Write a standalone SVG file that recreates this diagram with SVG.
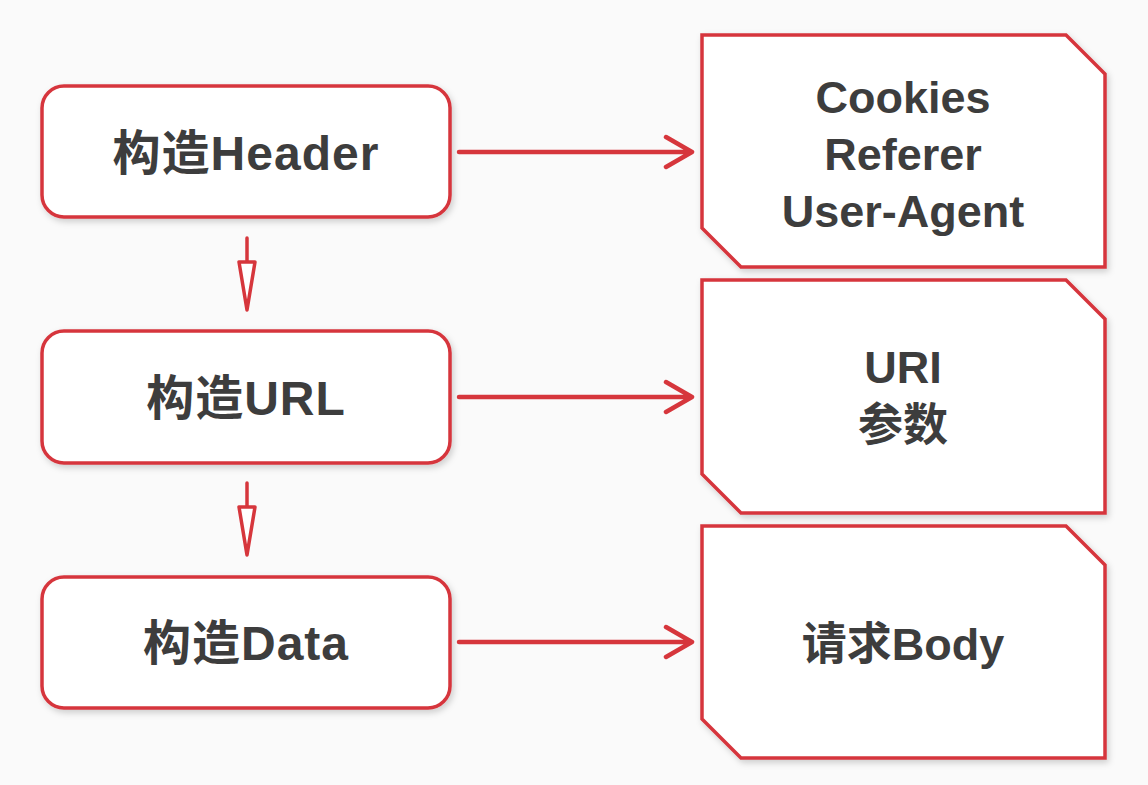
<svg xmlns="http://www.w3.org/2000/svg" width="1148" height="785" viewBox="0 0 1148 785">
<defs>
<style>
.bg{fill:#fafafa}
.box{fill:#ffffff;stroke:#d6363c;stroke-width:3.5;filter:url(#sh)}
.t{font-family:"Liberation Sans","Noto Sans CJK SC",sans-serif;font-weight:bold;fill:#3d3d3d;text-anchor:middle}
.l{font-size:48px;letter-spacing:1px}
.r{font-size:45px}
.ln{stroke:#d6363c;stroke-width:4.5;fill:none;stroke-linecap:round;stroke-linejoin:round}
.vl{stroke:#d6363c;stroke-width:3.5;fill:none;stroke-linecap:round}
.vh{stroke:#d6363c;stroke-width:3.5;fill:#ffffff;stroke-linejoin:round}
</style>
<filter id="sh" x="-5%" y="-5%" width="115%" height="120%">
<feDropShadow dx="2" dy="3" stdDeviation="3" flood-color="#000" flood-opacity="0.18"/>
</filter>
</defs>
<rect class="bg" x="0" y="0" width="1148" height="785"/>
<g id="n1">
<rect class="box" x="42" y="86" width="408" height="131" rx="22"/>
<text class="t l" x="246" y="170">构造Header</text>
</g>
<g id="n2">
<rect class="box" x="42" y="331" width="408" height="132" rx="22"/>
<text class="t l" x="246" y="415">构造URL</text>
</g>
<g id="n3">
<rect class="box" x="42" y="577" width="408" height="131" rx="22"/>
<text class="t l" x="246" y="660">构造Data</text>
</g>
<g id="r1">
<polygon class="box" points="702,35 1066,35 1105,74 1105,267 741,267 702,228"/>
<text class="t r" x="903" y="113">Cookies</text>
<text class="t r" x="903" y="170">Referer</text>
<text class="t r" x="903" y="227">User-Agent</text>
</g>
<g id="r2">
<polygon class="box" points="702,280 1066,280 1105,319 1105,513 741,513 702,474"/>
<text class="t r" x="903" y="383">URI</text>
<text class="t r" x="903" y="441">参数</text>
</g>
<g id="r3">
<polygon class="box" points="702,526 1066,526 1105,565 1105,758 741,758 702,719"/>
<text class="t r" x="903" y="660">请求Body</text>
</g>
<g id="connectors">
<path class="ln" d="M459,152 H692 M666,137 L692,152 L666,167"/>
<path class="ln" d="M459,397 H692 M666,382 L692,397 L666,412"/>
<path class="ln" d="M459,642 H692 M666,627 L692,642 L666,657"/>
<path class="vl" d="M247,238 V262"/>
<polygon class="vh" points="239,262 255,262 247,310"/>
<path class="vl" d="M247,483 V507"/>
<polygon class="vh" points="239,507 255,507 247,555"/>
</g>
</svg>
